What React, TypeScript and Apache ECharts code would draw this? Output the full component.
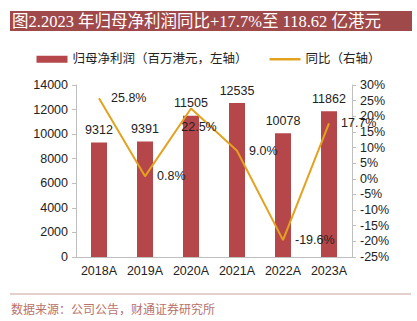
import React, { useEffect, useRef } from "react";
import * as echarts from "echarts";

const categories = ["2018A", "2019A", "2020A", "2021A", "2022A", "2023A"];
const profit = [9312, 9391, 11505, 12535, 10078, 11862];
const yoy = [25.8, 0.8, 22.5, 9.0, -19.6, 17.7];
const titleText = "图2.2023 年归母净利润同比+17.7%至 118.62 亿港元";
const sourceText = "数据来源：公司公告，财通证券研究所";
const barName = "归母净利润（百万港元，左轴）";
const lineName = "同比（右轴）";

export default function App() {
  const ref = useRef<HTMLDivElement>(null);
  useEffect(() => {
    if (!ref.current) return;
    const chart = echarts.init(ref.current, null, { renderer: "svg" });
    const sans = "'Liberation Sans', 'Noto Sans CJK SC', sans-serif";
    chart.setOption({
      animation: false,
      backgroundColor: "#ffffff",
      textStyle: { fontFamily: sans },
      graphic: [
        { type: "rect", shape: { x: 10, y: 11, width: 402, height: 20 }, style: { fill: "#a0494a" } },
        {
          type: "text", x: 12, y: 21.5,
          style: { text: titleText, fill: "#ffffff", font: "16.5px 'Liberation Serif', 'Noto Sans CJK SC', serif", verticalAlign: "middle" },
        },
        { type: "line", shape: { x1: 10, y1: 294, x2: 411, y2: 294 }, style: { stroke: "#c9a09c", lineWidth: 1 } },
        {
          type: "text", x: 11, y: 310,
          style: { text: sourceText, fill: "#b8716b", font: "12px 'Liberation Serif', 'Noto Sans CJK SC', serif", verticalAlign: "middle" },
        },
      ],
      legend: {
        top: 48,
        left: "center",
        itemGap: 22,
        itemWidth: 31,
        itemHeight: 7,
        textStyle: { fontSize: 12.5, color: "#222", fontFamily: sans },
        data: [
          { name: barName, icon: "rect" },
          { name: lineName, icon: "path://M0,0 L31,0 L31,2.5 L0,2.5 Z", itemStyle: { color: "#e3a21f" } },
        ],
      },
      grid: { left: 76, right: 65, top: 85, bottom: 64 },
      xAxis: {
        type: "category",
        data: categories,
        axisLine: { lineStyle: { color: "#bfbfbf" } },
        axisTick: { show: false },
        axisLabel: { color: "#222", fontSize: 12.5, margin: 8, interval: 0 },
      },
      yAxis: [
        {
          type: "value", min: 0, max: 14000, interval: 2000,
          axisLine: { show: true, lineStyle: { color: "#bfbfbf" } },
          axisTick: { show: true, length: 4, lineStyle: { color: "#bfbfbf" } },
          axisLabel: { color: "#222", fontSize: 12.5, margin: 8, formatter: (v: number) => String(v) },
          splitLine: { show: false },
        },
        {
          type: "value", min: -25, max: 30, interval: 5,
          axisLine: { show: true, lineStyle: { color: "#bfbfbf" } },
          axisTick: { show: true, length: 4, lineStyle: { color: "#bfbfbf" } },
          axisLabel: { color: "#222", fontSize: 12.5, margin: 8, formatter: "{value}%" },
          splitLine: { show: false },
        },
      ],
      series: [
        {
          name: barName,
          type: "bar",
          data: profit,
          barWidth: 16,
          itemStyle: { color: "#b5474a" },
          label: { show: true, position: "top", distance: 6, color: "#222", fontSize: 12.5 },
        },
        {
          name: lineName,
          type: "line",
          yAxisIndex: 1,
          data: yoy.map((v, i) =>
            i === 2
              ? { value: v, label: { position: "bottom", offset: [8, 0] } }
              : { value: v }
          ),
          symbol: "circle",
          symbolSize: 0.01,
          showSymbol: true,
          lineStyle: { color: "#e3a21f", width: 2 },
          itemStyle: { color: "#e3a21f" },
          label: {
            show: true, position: "right", distance: 12, color: "#222", fontSize: 12.5,
            formatter: (p: any) => Number(p.value).toFixed(1) + "%",
          },
        },
      ],
    });
    return () => chart.dispose();
  }, []);
  return <div ref={ref} style={{ position: "fixed", left: 0, top: 0, width: 417, height: 321 }} />;
}
